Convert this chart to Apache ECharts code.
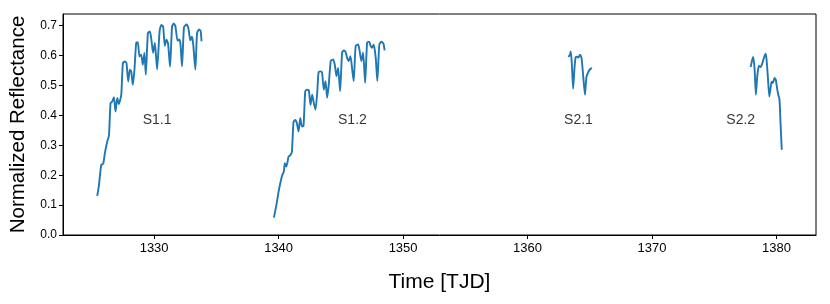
<!DOCTYPE html>
<html>
<head>
<meta charset="utf-8">
<script src="https://cdn.jsdelivr.net/npm/echarts@6/dist/echarts.min.js"></script>
<style>html,body{margin:0;padding:0;background:#fff}#c{width:830px;height:304px}</style>
</head>
<body>
<div id="c"></div>
<script>
// Sector S1.1 [TJD, reflectance]
var s11 = [[1325.43,0.131],[1325.57,0.167],[1325.75,0.234],[1325.91,0.238],[1326.05,0.275],[1326.23,0.312],[1326.37,0.332],[1326.50,0.441],[1326.63,0.446],[1326.77,0.461],[1326.90,0.413],[1327.04,0.458],[1327.17,0.438],[1327.36,0.469],[1327.49,0.575],[1327.65,0.580],[1327.78,0.575],[1327.92,0.513],[1328.05,0.553],[1328.16,0.547],[1328.29,0.502],[1328.42,0.553],[1328.56,0.642],[1328.69,0.645],[1328.82,0.597],[1328.96,0.603],[1329.09,0.569],[1329.22,0.609],[1329.33,0.536],[1329.50,0.675],[1329.66,0.681],[1329.78,0.653],[1329.92,0.609],[1330.06,0.642],[1330.24,0.554],[1330.44,0.682],[1330.58,0.702],[1330.72,0.698],[1330.86,0.633],[1330.99,0.653],[1331.12,0.640],[1331.28,0.563],[1331.44,0.697],[1331.58,0.707],[1331.71,0.698],[1331.88,0.650],[1332.03,0.654],[1332.12,0.636],[1332.24,0.564],[1332.40,0.695],[1332.60,0.704],[1332.76,0.690],[1332.91,0.651],[1333.04,0.663],[1333.14,0.638],[1333.31,0.553],[1333.45,0.676],[1333.61,0.687],[1333.73,0.683],[1333.81,0.648]];
// Sector S1.2
var s12 = [[1339.62,0.058],[1339.82,0.100],[1340.00,0.145],[1340.16,0.178],[1340.30,0.201],[1340.42,0.212],[1340.50,0.240],[1340.62,0.229],[1340.72,0.245],[1340.80,0.262],[1340.96,0.268],[1341.07,0.279],[1341.20,0.379],[1341.34,0.385],[1341.47,0.374],[1341.60,0.346],[1341.74,0.391],[1341.87,0.363],[1342.00,0.365],[1342.14,0.480],[1342.27,0.486],[1342.43,0.483],[1342.56,0.435],[1342.70,0.469],[1342.83,0.441],[1342.96,0.419],[1343.10,0.475],[1343.21,0.544],[1343.37,0.547],[1343.49,0.544],[1343.63,0.486],[1343.77,0.514],[1343.90,0.459],[1344.03,0.503],[1344.19,0.582],[1344.38,0.587],[1344.51,0.570],[1344.65,0.531],[1344.78,0.559],[1344.94,0.481],[1345.10,0.610],[1345.23,0.617],[1345.37,0.613],[1345.50,0.593],[1345.63,0.582],[1345.77,0.598],[1345.91,0.554],[1346.03,0.515],[1346.19,0.632],[1346.39,0.637],[1346.51,0.615],[1346.65,0.582],[1346.79,0.610],[1346.95,0.509],[1347.11,0.643],[1347.27,0.646],[1347.40,0.632],[1347.51,0.626],[1347.64,0.637],[1347.80,0.593],[1347.93,0.515],[1348.09,0.637],[1348.26,0.646],[1348.42,0.640],[1348.52,0.617]];
// Sector S2.1
var s21 = [[1363.26,0.596],[1363.39,0.601],[1363.47,0.614],[1363.55,0.576],[1363.66,0.489],[1363.77,0.559],[1363.86,0.594],[1363.98,0.596],[1364.09,0.593],[1364.21,0.603],[1364.33,0.593],[1364.46,0.536],[1364.61,0.469],[1364.73,0.529],[1364.89,0.546],[1365.05,0.556],[1365.18,0.558]];
// Sector S2.2
var s22 = [[1377.92,0.562],[1378.05,0.586],[1378.13,0.595],[1378.24,0.553],[1378.34,0.469],[1378.45,0.530],[1378.58,0.566],[1378.72,0.562],[1378.85,0.573],[1378.98,0.592],[1379.12,0.606],[1379.20,0.586],[1379.30,0.530],[1379.42,0.463],[1379.52,0.491],[1379.60,0.513],[1379.70,0.508],[1379.84,0.525],[1379.94,0.519],[1380.06,0.486],[1380.14,0.469],[1380.24,0.452],[1380.32,0.374],[1380.42,0.285]];
// Annotation labels [x, y, text]
var annotations = [[1330.24,0.385,'S1.1'],[1345.93,0.385,'S1.2'],[1364.09,0.385,'S2.1'],[1377.12,0.385,'S2.2']];
var xTicks = [1330,1340,1350,1360,1370,1380];
var yTicks = [0.0,0.1,0.2,0.3,0.4,0.5,0.6,0.7];

var FONT = 'Liberation Sans';
var chart = echarts.init(document.getElementById('c'), null, {renderer:'canvas'});
function seg(d){
  return {type:'line', data:d, showSymbol:false, symbol:'none', smooth:0.2,
    lineStyle:{color:'#1f77b4', width:1.9}, itemStyle:{color:'#1f77b4'}, animation:false, silent:true, z:2};
}
chart.setOption({
  animation:false,
  grid:{left:62, right:14, top:14, bottom:69, show:true, borderColor:'#000', borderWidth:1, backgroundColor:'transparent'},
  xAxis:{type:'value', min:1322.68, max:1383.17,
    name:'Time [TJD]', nameLocation:'middle', nameGap:37,
    nameTextStyle:{fontFamily:FONT, fontSize:21, color:'#000'},
    axisLine:{show:true, onZero:false, lineStyle:{color:'#000', width:1}},
    axisTick:{show:true, length:4, inside:false, customValues:xTicks, lineStyle:{color:'#000'}},
    axisLabel:{show:true, customValues:xTicks, margin:7, fontFamily:FONT, fontSize:13, color:'#000', formatter:function(v){return String(v);}},
    splitLine:{show:false}},
  yAxis:{type:'value', min:0, max:0.739,
    name:'Normalized Reflectance', nameLocation:'middle', nameGap:34, nameRotate:90,
    nameTextStyle:{fontFamily:FONT, fontSize:20.5, color:'#000'},
    axisLine:{show:true, onZero:false, lineStyle:{color:'#000', width:1}},
    axisTick:{show:true, length:4, inside:false, customValues:yTicks, lineStyle:{color:'#000'}},
    axisLabel:{show:true, customValues:yTicks, margin:6, fontFamily:FONT, fontSize:12, color:'#000', formatter:function(v){return v.toFixed(1);}},
    splitLine:{show:false}},
  series:[seg(s11), seg(s12), seg(s21), seg(s22),
    {type:'scatter', data:annotations, symbolSize:0, silent:true, animation:false,
      label:{show:true, position:'inside', fontFamily:FONT, fontSize:14, color:'#000', formatter:function(p){return p.data[2];}}}]
});
</script>
</body>
</html>
